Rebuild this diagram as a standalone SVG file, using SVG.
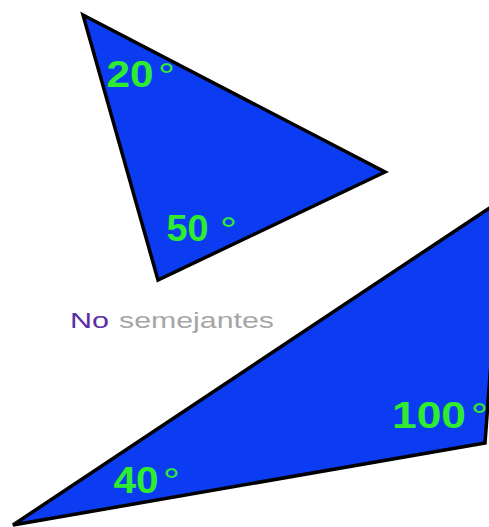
<svg xmlns="http://www.w3.org/2000/svg" width="489" height="527" viewBox="0 0 489 527">
<style>
.tri{fill:#0c3cf2;stroke:#000;stroke-width:3.5;stroke-linejoin:miter}
.num{font-family:"Liberation Sans",Arial,sans-serif;font-weight:bold;font-size:36px;fill:#2fec2f}
.deg{font-family:"Liberation Sans",Arial,sans-serif;font-size:35px;fill:#2fec2f}
.lbl{font-family:"Liberation Sans",Arial,sans-serif;font-size:22px}
</style>
<rect width="489" height="527" fill="#fff"/>
<g id="triangle1">
<polygon class="tri" points="83,15 385,172 158,280"/>
<text class="num" x="106.5" y="87" textLength="47" lengthAdjust="spacingAndGlyphs">20</text>
<text class="deg" x="158" y="87.5" textLength="17" lengthAdjust="spacingAndGlyphs">°</text>
<text class="num" x="166.5" y="241" textLength="42" lengthAdjust="spacingAndGlyphs">50</text>
<text class="deg" x="220" y="242" textLength="17" lengthAdjust="spacingAndGlyphs">°</text>
</g>
<g id="triangle2">
<polygon class="tri" points="13,525 503,199 485,443"/>
<text class="num" x="392" y="428" textLength="74" lengthAdjust="spacingAndGlyphs">100</text>
<text class="deg" x="471" y="428" textLength="17" lengthAdjust="spacingAndGlyphs">°</text>
<text class="num" x="113.5" y="493" textLength="45" lengthAdjust="spacingAndGlyphs">40</text>
<text class="deg" x="163" y="493" textLength="17" lengthAdjust="spacingAndGlyphs">°</text>
</g>
<g id="label">
<text class="lbl" x="70" y="328" fill="#5a2ea6" textLength="39" lengthAdjust="spacingAndGlyphs">No</text>
<text class="lbl" x="119" y="328" fill="#a6a6a6" textLength="155" lengthAdjust="spacingAndGlyphs">semejantes</text>
</g>
</svg>
